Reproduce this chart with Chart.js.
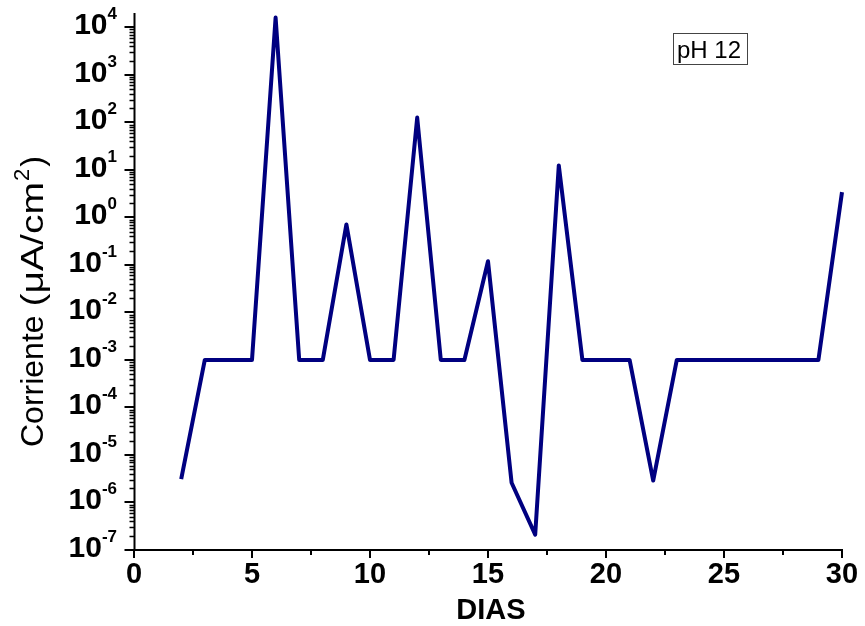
<!DOCTYPE html>
<html>
<head>
<meta charset="utf-8">
<script src="https://cdn.jsdelivr.net/npm/chart.js@4/dist/chart.umd.min.js"></script>
<style>
  html, body { margin: 0; padding: 0; background: #fff; }
  #wrap { width: 865px; height: 626px; position: relative; }
</style>
</head>
<body>
<div id="wrap"><canvas id="c" width="865" height="626"></canvas></div>
<script>
// Corrosion current density vs. days, pH 12
const dias = [2, 3, 4, 5, 6, 7, 8, 9, 10, 11, 12, 13, 14, 15, 16, 17, 18, 19, 20, 21, 22, 23, 24, 25, 26, 27, 28, 29, 30];
const corriente = [3.1e-6, 1e-3, 1e-3, 1e-3, 1.6e4, 1e-3, 1e-3, 0.71, 1e-3, 1e-3, 126, 1e-3, 1e-3, 0.119, 2.6e-6, 2.1e-7, 12.4, 1e-3, 1e-3, 1e-3, 2.9e-6, 1e-3, 1e-3, 1e-3, 1e-3, 1e-3, 1e-3, 1e-3, 3.4];
const xTicks = [0, 5, 10, 15, 20, 25, 30];
const yExponents = [-7, -6, -5, -4, -3, -2, -1, 0, 1, 2, 3, 4];
const seriesLabel = 'pH 12';

const FONT = '"Liberation Sans", Arial, sans-serif';

// Axes, ticks, superscript labels and titles drawn from the chart's scales
const axisPainter = {
  id: 'axisPainter',
  afterDraw(chart) {
    const ctx = chart.ctx;
    const xs = chart.scales.x, ys = chart.scales.y;
    const area = chart.chartArea;
    const left = Math.round(area.left) + 0.5;
    const bottom = Math.round(area.bottom);
    ctx.save();
    ctx.strokeStyle = '#000';
    ctx.fillStyle = '#000';

    // axis lines
    ctx.lineWidth = 2;
    ctx.beginPath();
    ctx.moveTo(left, area.top);
    ctx.lineTo(left, bottom);
    ctx.lineTo(area.right + 1, bottom);
    ctx.stroke();

    // x ticks (major + minor)
    ctx.lineWidth = 2;
    for (let v = 0; v <= 30; v += 2.5) {
      const px = Math.round(xs.getPixelForValue(v));
      const major = v % 5 === 0;
      ctx.beginPath();
      ctx.moveTo(px, bottom);
      ctx.lineTo(px, bottom + (major ? 8 : 5));
      ctx.stroke();
    }
    ctx.font = 'bold 29px ' + FONT;
    ctx.textAlign = 'center';
    ctx.textBaseline = 'alphabetic';
    xTicks.forEach(v => {
      ctx.fillText(String(v), xs.getPixelForValue(v), 583);
    });

    // y ticks (decades + log minors)
    yExponents.forEach(e => {
      const py = Math.round(ys.getPixelForValue(Math.pow(10, e)));
      ctx.lineWidth = 2;
      ctx.beginPath();
      ctx.moveTo(left - 10, py);
      ctx.lineTo(left, py);
      ctx.stroke();
      if (e < 4) {
        ctx.lineWidth = 1.5;
        for (let m = 2; m <= 9; m++) {
          const pm = Math.round(ys.getPixelForValue(m * Math.pow(10, e))) + 0.5;
          ctx.beginPath();
          ctx.moveTo(left - 5, pm);
          ctx.lineTo(left, pm);
          ctx.stroke();
        }
      }
      // label "10" with superscript exponent, right-aligned
      const exp = String(e);
      ctx.textAlign = 'left';
      ctx.font = 'bold 17px ' + FONT;
      const ew = ctx.measureText(exp).width;
      ctx.font = 'bold 30px ' + FONT;
      const bw = ctx.measureText('10').width;
      const rightEdge = 117;
      const x0 = rightEdge - ew - bw;
      ctx.fillText('10', x0, py + 7);
      ctx.font = 'bold 17px ' + FONT;
      ctx.fillText(exp, x0 + bw, py - 8);
    });

    // y title, rotated; the unit part is set slightly wider
    ctx.save();
    ctx.translate(43, 447);
    ctx.rotate(-Math.PI / 2);
    ctx.textAlign = 'left';
    let cx = 0;
    ctx.font = '32px ' + FONT;
    ctx.fillText('Corriente ', cx, 0);
    cx += ctx.measureText('Corriente ').width;
    const unit = '(\u03BCA/cm';
    const uw = ctx.measureText(unit).width;
    const stretch = 1.22;
    ctx.save();
    ctx.translate(cx, 0);
    ctx.scale(stretch, 1);
    ctx.fillText(unit, 0, 0);
    ctx.restore();
    cx += uw * stretch;
    ctx.font = '22px ' + FONT;
    ctx.fillText('2', cx + 1, -14);
    cx += ctx.measureText('2').width + 3;
    ctx.font = '32px ' + FONT;
    ctx.fillText(')', cx, 0);
    ctx.restore();

    // x title
    ctx.font = 'bold 29px ' + FONT;
    ctx.textAlign = 'center';
    ctx.fillText('DIAS', 491, 619);

    // label box
    ctx.font = '24px ' + FONT;
    ctx.textAlign = 'left';
    ctx.strokeStyle = '#444';
    ctx.lineWidth = 1;
    ctx.strokeRect(673.5, 33.5, 74, 31);
    ctx.fillStyle = '#000';
    ctx.fillText(seriesLabel, 677, 58);

    ctx.restore();
  }
};

new Chart(document.getElementById('c'), {
  type: 'line',
  data: {
    datasets: [{
      label: seriesLabel,
      data: dias.map((d, i) => ({ x: d, y: corriente[i] })),
      borderColor: '#000080',
      backgroundColor: '#000080',
      borderWidth: 4,
      borderJoinStyle: 'round',
      borderCapStyle: 'butt',
      pointRadius: 0,
      tension: 0,
      clip: false
    }]
  },
  options: {
    responsive: false,
    animation: false,
    devicePixelRatio: 1,
    layout: { padding: { left: 134, right: 23, top: 13, bottom: 76 } },
    plugins: { legend: { display: false }, tooltip: { enabled: false } },
    scales: {
      x: { type: 'linear', min: 0, max: 30, display: false },
      y: { type: 'logarithmic', min: 1e-7, max: 2e4, display: false }
    }
  },
  plugins: [axisPainter]
});
</script>
</body>
</html>
